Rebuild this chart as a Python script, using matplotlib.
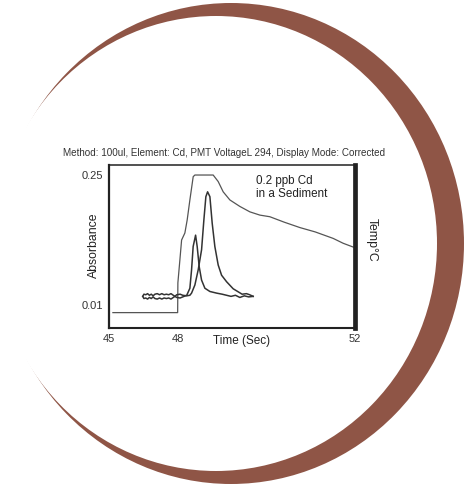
import numpy as np
import matplotlib
matplotlib.use('Agg')
import matplotlib.pyplot as plt
from matplotlib.patches import Ellipse

plt.rcParams['font.family'] = ['Liberation Sans', 'DejaVu Sans']

# Axis ticks
time_ticks = [45, 48, 52]
abs_ticks = [0.01, 0.25]
abs_tick_labels = ['0.01', '0.25']

# Furnace temperature trace (drawn on the absorbance scale)
temp_time = [45.17, 47.99, 48.00, 48.045, 48.084, 48.158, 48.21, 48.271, 48.346,
             48.384, 48.797, 48.91, 49.023, 49.174, 49.40, 49.626, 49.852, 50.077,
             50.40, 50.755, 51.10, 51.507, 51.733, 51.96]
temp_signal = [-0.004, -0.004, 0.051, 0.093, 0.130, 0.143, 0.167, 0.204, 0.247,
               0.250, 0.250, 0.238, 0.219, 0.204, 0.192, 0.182, 0.176, 0.173,
               0.163, 0.153, 0.145, 0.133, 0.124, 0.117]

# First (smaller) absorbance peak
peak1_time = [46.47, 46.52, 46.60, 46.68, 46.76, 46.84, 46.92, 47.00, 47.10, 47.20,
              47.30, 47.40, 47.50, 47.60, 47.70, 47.80, 47.87, 47.95, 48.05, 48.11,
              48.20, 48.271, 48.309, 48.345, 48.40, 48.436, 48.481, 48.535, 48.61,
              48.723, 48.874, 49.0, 49.10, 49.2, 49.3, 49.4, 49.5, 49.6, 49.7]
peak1_abs = [0.026, 0.030, 0.029, 0.031, 0.028, 0.030, 0.027, 0.030, 0.031, 0.029,
             0.031, 0.029, 0.030, 0.029, 0.031, 0.028, 0.026, 0.024, 0.023, 0.025,
             0.028, 0.041, 0.075, 0.118, 0.139, 0.118, 0.081, 0.056, 0.041,
             0.035, 0.032, 0.030, 0.028, 0.026, 0.028, 0.024, 0.027, 0.025, 0.026]

# Second (larger) absorbance peak
peak2_time = [46.47, 46.52, 46.60, 46.68, 46.76, 46.84, 46.92, 47.00, 47.10, 47.20,
              47.30, 47.40, 47.50, 47.60, 47.70, 47.80, 47.87, 47.95, 48.05, 48.11,
              48.20, 48.27, 48.309, 48.384, 48.459, 48.535, 48.587, 48.632, 48.671,
              48.723, 48.775, 48.835, 48.91, 48.987, 49.10, 49.249, 49.35, 49.45,
              49.55, 49.62, 49.70]
peak2_abs = [0.026, 0.022, 0.023, 0.021, 0.024, 0.022, 0.025, 0.022, 0.021, 0.023,
             0.021, 0.023, 0.022, 0.023, 0.021, 0.024, 0.026, 0.029, 0.030, 0.028,
             0.027, 0.028, 0.032, 0.047, 0.075, 0.112, 0.167, 0.210, 0.219,
             0.210, 0.161, 0.118, 0.084, 0.065, 0.053, 0.040, 0.035, 0.030,
             0.031, 0.029, 0.026]


def time_to_axis(t):
    # the original time axis is not linear: 45-48 s is squeezed
    return np.interp(t, time_ticks, [0.0, 0.28, 1.0])


def axis_to_time(f):
    return np.interp(f, [0.0, 0.28, 1.0], time_ticks)


def main():
    fig = plt.figure(figsize=(4.72, 4.87), dpi=100)

    # Brown crescent behind the chart
    bg = fig.add_axes([0, 0, 1, 1])
    bg.set_xlim(0, 472)
    bg.set_ylim(487, 0)
    bg.axis('off')
    bg.add_patch(Ellipse((231, 243.5), 466, 481, color='#8f5546', lw=0))
    bg.add_patch(Ellipse((216, 243.5), 442, 455, color='white', lw=0))

    ax = fig.add_axes([109 / 472, 1 - 328 / 487, 246 / 472, 163 / 487])
    ax.set_xscale('function', functions=(time_to_axis, axis_to_time))
    ax.set_xlim(45, 52)
    ax.set_ylim(-0.0324, 0.2685)
    ax.patch.set_alpha(0)

    ax.plot(temp_time, temp_signal, color='#555555', lw=0.9)
    ax.plot(peak1_time, peak1_abs, color='#333333', lw=1.1)
    ax.plot(peak2_time, peak2_abs, color='#333333', lw=1.1)

    ax.set_xticks(time_ticks)
    ax.set_xticklabels([str(t) for t in time_ticks])
    ax.set_yticks(abs_ticks)
    ax.set_yticklabels(abs_tick_labels)
    ax.tick_params(length=0, labelsize=8, colors='#333333')
    ax.tick_params(axis='x', pad=4)
    ax.tick_params(axis='y', pad=4)

    for side, lw in [('left', 1.6), ('top', 1.1), ('bottom', 1.5), ('right', 3.4)]:
        ax.spines[side].set_linewidth(lw)
        ax.spines[side].set_color('#222222')

    ax.set_xlabel('Time (Sec)', fontsize=8.5, color='#222222', va='top')
    ax.xaxis.set_label_coords(0.537, -0.043)
    ax.set_ylabel('Absorbance', fontsize=8.8, color='#222222', va='center')
    ax.yaxis.set_label_coords(-0.061, 0.51)
    ax.text(1.069, 0.54, 'Temp°C', rotation=-90, fontsize=8.8, color='#222222',
            ha='center', va='center', transform=ax.transAxes)

    ax.text(0.596, 0.94, '0.2 ppb Cd\nin a Sediment', fontsize=8.4, color='#222222',
            ha='left', va='top', linespacing=1.15, transform=ax.transAxes)

    ax.text(0.4695, 1.074,
            'Method: 100ul, Element: Cd, PMT VoltageL 294, Display Mode: Corrected',
            fontsize=7.1, color='#333333', ha='center', va='center',
            transform=ax.transAxes)

    fig.savefig('out.png', dpi=100)


if __name__ == '__main__':
    main()
